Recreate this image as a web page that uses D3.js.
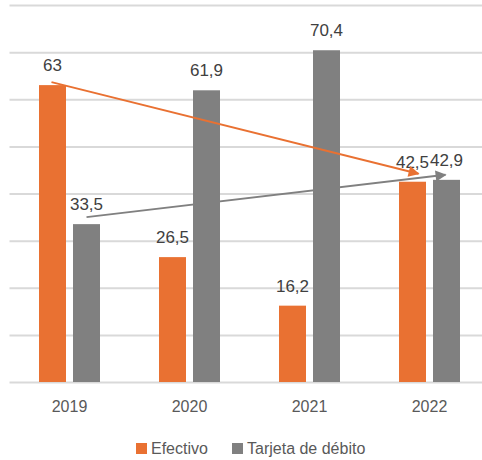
<!DOCTYPE html>
<html>
<head>
<meta charset="utf-8">
<script src="https://cdn.jsdelivr.net/npm/d3@7"></script>
<style>
  html, body { margin: 0; padding: 0; background: #fff; }
  svg { display: block; }
</style>
</head>
<body>
<svg id="chart" width="482" height="460"></svg>
<script>
// Payment method usage by year
const years = ["2019", "2020", "2021", "2022"];
const efectivo = [63, 26.5, 16.2, 42.5];
const tarjeta = [33.5, 61.9, 70.4, 42.9];
const seriesNames = ["Efectivo", "Tarjeta de débito"];
const yTicks = [0, 10, 20, 30, 40, 50, 60, 70, 80];

const colors = ["#E97132", "#808080"];
const fmt = v => String(v).replace(".", ",");

const svg = d3.select("#chart");
const W = 482, H = 460;
const plot = { left: 9.5, right: 489.5, top: 5, bottom: 382 };

const x = d3.scaleBand().domain(years).range([plot.left, plot.right]).padding(0);
const y = d3.scaleLinear().domain([0, 80]).range([plot.bottom, plot.top]);

const barW = 27, barGap = 7;
const groupW = barW * 2 + barGap;
const barX = (yr, s) => x(yr) + x.bandwidth() / 2 - groupW / 2 + s * (barW + barGap);
const barCx = (yr, s) => barX(yr, s) + barW / 2;

// gridlines
const grid = d3.axisLeft(y).tickValues(yTicks).tickSize(-(W - plot.left)).tickFormat("");
const gG = svg.append("g").attr("transform", `translate(${plot.left},0)`).call(grid);
gG.select(".domain").remove();
gG.selectAll(".tick line").attr("stroke", "#d9d9d9").attr("stroke-width", 2);

// category axis labels
const xAxis = d3.axisBottom(x).tickSize(0).tickPadding(0);
const xG = svg.append("g").attr("transform", `translate(0,${plot.bottom})`).call(xAxis);
xG.select(".domain").remove();
xG.selectAll(".tick text")
  .attr("dy", null).attr("y", 30)
  .attr("font-family", "Liberation Sans, Arial, sans-serif")
  .attr("font-size", 16).attr("fill", "#595959");

// bars with value labels
const series = [efectivo, tarjeta];
series.forEach((vals, s) => {
  const g = svg.append("g");
  g.selectAll("rect").data(years).join("rect")
    .attr("x", d => barX(d, s))
    .attr("width", barW)
    .attr("y", (d, i) => y(vals[i]))
    .attr("height", (d, i) => plot.bottom - y(vals[i]))
    .attr("fill", colors[s]);
  g.selectAll("text").data(years).join("text")
    .attr("x", d => barCx(d, s))
    .attr("y", (d, i) => y(vals[i]) - 14)
    .attr("text-anchor", "middle")
    .attr("font-family", "Liberation Sans, Arial, sans-serif")
    .attr("font-size", 17).attr("fill", "#404040")
    .text((d, i) => fmt(vals[i]));
});

// trend arrows
const defs = svg.append("defs");
colors.forEach((c, i) => {
  defs.append("marker")
    .attr("id", "arrow" + i)
    .attr("viewBox", "0 0 10 10").attr("refX", 9).attr("refY", 5)
    .attr("markerUnits", "userSpaceOnUse")
    .attr("markerWidth", 13).attr("markerHeight", 11)
    .attr("orient", "auto")
    .append("path").attr("d", "M0,0 L10,5 L0,10 Z").attr("fill", c);
});
const arrows = [
  { s: 0, x1: barCx(years[0], 0) - 1, y1: y(efectivo[0]) - 3, x2: barCx(years[3], 0) + 6, y2: y(efectivo[3]) - 8 },
  { s: 1, x1: barCx(years[0], 1), y1: y(tarjeta[0]) - 7, x2: barCx(years[3], 1) - 1, y2: y(tarjeta[3]) - 5 }
];
svg.append("g").selectAll("line").data(arrows).join("line")
  .attr("x1", d => d.x1).attr("y1", d => d.y1)
  .attr("x2", d => d.x2).attr("y2", d => d.y2)
  .attr("stroke", d => colors[d.s]).attr("stroke-width", 2)
  .attr("marker-end", d => `url(#arrow${d.s})`);

// legend
const legend = svg.append("g").attr("font-family", "Liberation Sans, Arial, sans-serif").attr("font-size", 16);
const legX = [136, 232];
seriesNames.forEach((n, i) => {
  legend.append("rect").attr("x", legX[i]).attr("y", 443).attr("width", 11).attr("height", 11).attr("fill", colors[i]);
  legend.append("text").attr("x", legX[i] + 15).attr("y", 454).attr("fill", "#595959").text(n);
});
</script>
</body>
</html>
